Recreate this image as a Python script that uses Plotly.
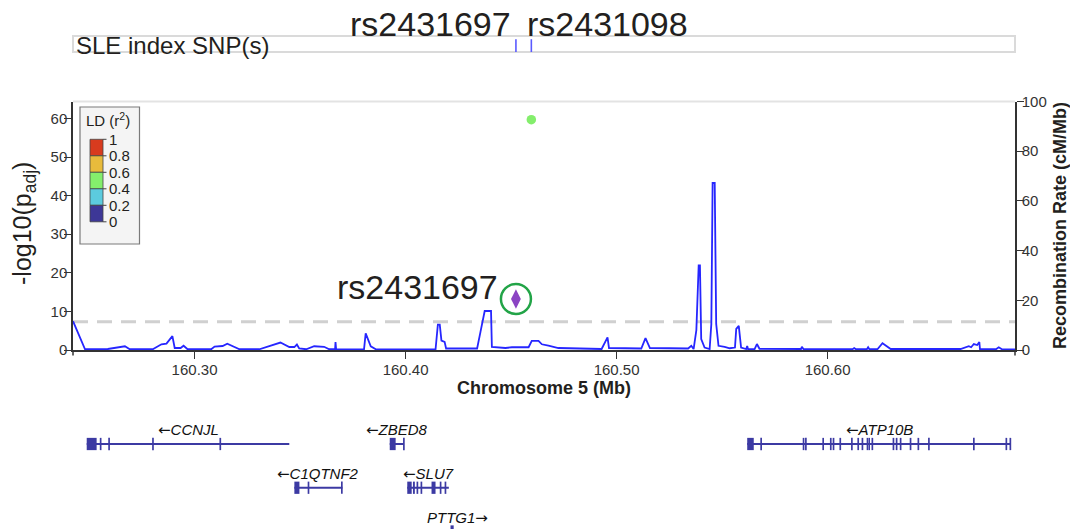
import plotly.graph_objects as go

# ---------------- data ----------------
recomb_pos = [
    160.2424, 160.2481, 160.2589, 160.2670, 160.2693, 160.2802, 160.2843, 160.2867, 160.2895, 160.2906,
    160.2934, 160.2948, 160.2967, 160.3079, 160.3095, 160.3133, 160.3155, 160.3213, 160.3307, 160.3407,
    160.3449, 160.3473, 160.3485, 160.3496, 160.3529, 160.3567, 160.3614, 160.3638, 160.3666, 160.3668,
    160.3671, 160.3803, 160.3811, 160.3835, 160.3859, 160.4000, 160.4142, 160.4153, 160.4162, 160.4170,
    160.4185, 160.4192, 160.4339, 160.4355, 160.4375, 160.4405, 160.4409, 160.4473, 160.4504, 160.4583,
    160.4598, 160.4630, 160.4646, 160.4677, 160.4724, 160.4929, 160.4945, 160.4957, 160.4964, 160.5117,
    160.5137, 160.5158, 160.5339, 160.5354, 160.5365, 160.5378, 160.5389, 160.5395, 160.5401, 160.5417,
    160.5441, 160.5449, 160.5455, 160.5465, 160.5472, 160.5483, 160.5512, 160.5536, 160.5561, 160.5567,
    160.5579, 160.5590, 160.5614, 160.5619, 160.5623, 160.5654, 160.5665, 160.5677, 160.5874, 160.5878,
    160.5886, 160.6118, 160.6126, 160.6134, 160.6186, 160.6192, 160.6198, 160.6236, 160.6260, 160.6299,
    160.6630, 160.6669, 160.6680, 160.6693, 160.6709, 160.6719, 160.6722, 160.6798, 160.6811, 160.6826,
    160.6888,
]
recomb_rate = [
    11.6, 0.3, 0.4, 1.5, 0.3, 0.3, 2.3, 2.6, 5.6, 0.8,
    0.8, 1.7, 0.3, 0.3, 1.4, 1.6, 2.5, 0.3, 0.3, 3.0,
    1.2, 1.2, 2.2, 0.6, 0.3, 1.5, 1.3, 0.3, 0.3, 3.2,
    0.2, 0.2, 6.7, 1.5, 0.3, 0.2, 0.2, 10.2, 10.2, 3.8,
    3.3, 0.6, 0.6, 7.3, 15.7, 15.7, 1.2, 0.8, 1.1, 1.1,
    3.7, 3.7, 2.3, 1.8, 0.8, 0.4, 3.5, 5.1, 0.8, 0.6,
    4.8, 0.8, 0.6, 1.7, 0.4, 8.0, 34.0, 34.0, 4.4, 1.0,
    0.4, 10.5, 67.2, 67.2, 10.5, 1.7, 1.3, 0.7, 1.0, 8.5,
    9.7, 1.0, 0.4, 1.6, 0.3, 0.4, 2.4, 0.5, 0.4, 1.3,
    0.3, 0.3, 0.8, 0.3, 0.3, 1.1, 0.3, 0.3, 2.7, 0.4,
    0.4, 1.5, 1.1, 2.4, 2.0, 3.2, 0.3, 0.3, 1.1, 0.3,
    0.2,
]

index_snp_names = ["rs2431697", "rs2431098"]
index_snp_pos = [160.4523, 160.4596]

lead_snp_name = "rs2431697"
lead_snp_pos = [160.4523]
lead_snp_logp = [13.2]

other_snp_pos = [160.4596]
other_snp_logp = [59.7]
other_snp_r2 = [0.5]

sig_threshold = 7.3

x_range = [160.2424, 160.6888]
x_ticks = [160.30, 160.40, 160.50, 160.60]
y_ticks = [0, 10, 20, 30, 40, 50, 60]
y2_ticks = [0, 20, 40, 60, 80, 100]

ld_breaks = [1.0, 0.8, 0.6, 0.4, 0.2, 0.0]
ld_labels = ["1", "0.8", "0.6", "0.4", "0.2", "0"]
ld_colors = ["#d83b1e", "#e8bb3c", "#84ee6c", "#5ccbde", "#3d3797"]  # high -> low bins

gene_names = ["CCNJL", "ZBED8", "C1QTNF2", "SLU7", "PTTG1", "ATP10B"]
gene_start = [160.2489, 160.3925, 160.3473, 160.4008, 160.4213, 160.5619]
gene_end = [160.3449, 160.3992, 160.3701, 160.4205, 160.4276, 160.6869]
gene_strand = ["-", "-", "-", "-", "+", "-"]
gene_row = [1, 1, 2, 2, 3, 1]
gene_exons = [
    [(160.2489, 160.2536), (160.2551, 160.2559), (160.2591, 160.2599), (160.2799, 160.2807), (160.3118, 160.3126)],
    [(160.3925, 160.3953), (160.3988, 160.3996)],
    [(160.3473, 160.3497), (160.3536, 160.3544), (160.3694, 160.3702)],
    [(160.4008, 160.4029), (160.4035, 160.4044), (160.4052, 160.4060), (160.4071, 160.4079),
     (160.4123, 160.4142), (160.4162, 160.4170), (160.4185, 160.4193)],
    [(160.4213, 160.4228)],
    [(160.5619, 160.5650), (160.5681, 160.5689), (160.5882, 160.5890), (160.5893, 160.5901),
     (160.5975, 160.5983), (160.6011, 160.6019), (160.6024, 160.6032), (160.6056, 160.6064),
     (160.6111, 160.6119), (160.6141, 160.6149), (160.6161, 160.6169), (160.6185, 160.6193),
     (160.6194, 160.6201), (160.6208, 160.6216), (160.6308, 160.6316), (160.6323, 160.6331),
     (160.6342, 160.6350), (160.6389, 160.6397), (160.6426, 160.6434), (160.6476, 160.6484),
     (160.6689, 160.6697), (160.6843, 160.6851), (160.6862, 160.6870)],
]

# ---------------- styling / layout helpers ----------------
W, H = 1070, 529
FONT = "Liberation Sans, Arial, Helvetica, sans-serif"
TXT = "#231f20"
AX = "#333333"
GENE_COL = "#3c3aa3"
ARROW_SPAN = '<span style="font-family:DejaVu Sans">{}</span>'


def px(x):
    return x / W


def py(y):
    return 1 - y / H


def ld_color(r2):
    for i in range(len(ld_colors)):
        if r2 >= ld_breaks[i + 1]:
            return ld_colors[i]
    return ld_colors[-1]


fig = go.Figure()

fig.add_trace(go.Scatter(x=recomb_pos, y=recomb_rate, mode="lines", yaxis="y2",
                         line=dict(color="#2626ff", width=1.8), hoverinfo="skip", showlegend=False))
fig.add_trace(go.Scatter(x=other_snp_pos, y=other_snp_logp, mode="markers", yaxis="y",
                         marker=dict(color=[ld_color(r) for r in other_snp_r2], size=9.5, line=dict(width=0)),
                         showlegend=False))
fig.add_trace(go.Scatter(x=lead_snp_pos, y=lead_snp_logp, mode="markers", yaxis="y",
                         marker=dict(symbol="circle-open", size=30, color="#22a447", line=dict(width=2.5, color="#22a447")),
                         showlegend=False, hoverinfo="skip"))
fig.add_trace(go.Scatter(x=lead_snp_pos, y=lead_snp_logp, mode="markers", yaxis="y",
                         marker=dict(symbol="diamond-tall", size=14, color="#8b44c3", line=dict(width=0)),
                         showlegend=False))
for p in index_snp_pos:
    fig.add_trace(go.Scatter(x=[p, p], y=[0.0, 0.8], mode="lines", yaxis="y4",
                             line=dict(color="#5a5aff", width=1.6), showlegend=False, hoverinfo="skip"))
for s, e, r in zip(gene_start, gene_end, gene_row):
    fig.add_trace(go.Scatter(x=[s, e], y=[r, r], mode="lines", yaxis="y3",
                             line=dict(color=GENE_COL, width=2), showlegend=False, hoverinfo="skip"))

shapes = []
annotations = []

# genome-wide significance threshold
shapes.append(dict(type="line", xref="x domain", yref="y", x0=0, x1=1, y0=sig_threshold, y1=sig_threshold,
                   line=dict(color="#d0d0d0", width=3, dash="15px,9px"), layer="below"))
# faint top border of the association panel
shapes.append(dict(type="line", xref="x domain", yref="y domain", x0=0, x1=1, y0=1, y1=1,
                   line=dict(color="#e3e3e3", width=2)))
# axis lines extending slightly below zero
for xd in (0, 1):
    shapes.append(dict(type="line", xref="x domain", yref="y domain", x0=xd, x1=xd, y0=0, y1=-0.022,
                       line=dict(color=AX, width=1.5)))
# index SNP track box
shapes.append(dict(type="rect", xref="x domain", yref="y4 domain", x0=0, x1=1, y0=0, y1=1,
                   line=dict(color="#dadada", width=2), fillcolor="rgba(0,0,0,0)", layer="below"))

# exons
EXON_HALF = 0.14
for exons, r in zip(gene_exons, gene_row):
    for s, e in exons:
        shapes.append(dict(type="rect", xref="x", yref="y3", x0=s, x1=e, y0=r - EXON_HALF, y1=r + EXON_HALF,
                           fillcolor=GENE_COL, line=dict(width=0)))

# gene labels
LABEL_OFF = 0.309
for name, s, e, st, r in zip(gene_names, gene_start, gene_end, gene_strand, gene_row):
    txt = (ARROW_SPAN.format("\u2190") + name) if st == "-" else (name + ARROW_SPAN.format("\u2192"))
    annotations.append(dict(x=(s + e) / 2, y=r - LABEL_OFF, xref="x", yref="y3", text="<i>" + txt + "</i>",
                            showarrow=False, xanchor="center", yanchor="middle",
                            font=dict(family=FONT, size=15, color="#111111")))

# index SNP labels
annotations.append(dict(x=index_snp_pos[0], y=py(24), xref="x", yref="paper", text=index_snp_names[0],
                        showarrow=False, xanchor="right", yanchor="middle", xshift=-3,
                        font=dict(family=FONT, size=34, color=TXT)))
annotations.append(dict(x=index_snp_pos[1], y=py(24), xref="x", yref="paper", text=index_snp_names[1],
                        showarrow=False, xanchor="left", yanchor="middle", xshift=-6,
                        font=dict(family=FONT, size=34, color=TXT)))
annotations.append(dict(x=px(74), y=py(46), xref="paper", yref="paper", text="SLE index SNP(s)",
                        showarrow=False, xanchor="left", yanchor="middle",
                        font=dict(family=FONT, size=24, color=TXT)))

# lead SNP label
annotations.append(dict(x=lead_snp_pos[0], y=lead_snp_logp[0], xref="x", yref="y", text=lead_snp_name,
                        showarrow=False, xanchor="right", yanchor="middle", xshift=-16, yshift=12,
                        font=dict(family=FONT, size=34, color=TXT)))

# axis titles
annotations.append(dict(x=px(544), y=py(388), xref="paper", yref="paper", text="<b>Chromosome 5 (Mb)</b>",
                        showarrow=False, xanchor="center", yanchor="middle",
                        font=dict(family=FONT, size=18, color=TXT)))
annotations.append(dict(x=px(24), y=py(224), xref="paper", yref="paper", text="-log10(p<sub>adj</sub>)",
                        showarrow=False, xanchor="center", yanchor="middle", textangle=-90,
                        font=dict(family=FONT, size=25, color=TXT)))
annotations.append(dict(x=px(1060), y=py(226), xref="paper", yref="paper",
                        text="<b>Recombination Rate (cM/Mb)</b>",
                        showarrow=False, xanchor="center", yanchor="middle", textangle=-90,
                        font=dict(family=FONT, size=18, color=TXT)))

# LD legend
shapes.append(dict(type="rect", xref="paper", yref="paper", x0=px(80), x1=px(139.5), y0=py(244), y1=py(107),
                   fillcolor="#f4f4f4", line=dict(color="#7a7a7a", width=1.2)))
annotations.append(dict(x=px(84), y=py(120), xref="paper", yref="paper", text="LD (r<sup>2</sup>)",
                        showarrow=False, xanchor="left", yanchor="middle",
                        font=dict(family=FONT, size=15, color=TXT)))
bar_top, bar_step = 139.3, 16.5
for i, c in enumerate(ld_colors):
    y0 = bar_top + i * bar_step
    shapes.append(dict(type="rect", xref="paper", yref="paper", x0=px(90), x1=px(103),
                       y0=py(y0 + bar_step), y1=py(y0), fillcolor=c, line=dict(color="#444444", width=0.8)))
for i, lab in enumerate(ld_labels):
    yy = bar_top + i * bar_step
    shapes.append(dict(type="line", xref="paper", yref="paper", x0=px(103), x1=px(106.5), y0=py(yy), y1=py(yy),
                       line=dict(color="#444444", width=1)))
    annotations.append(dict(x=px(106.5), y=py(yy), xref="paper", yref="paper", text=lab, showarrow=False,
                            xanchor="left", yanchor="middle", font=dict(family=FONT, size=15, color=TXT)))

axis_common = dict(showgrid=False, zeroline=False, showline=True, linecolor=AX, linewidth=1.5,
                   ticks="outside", ticklen=7, tickwidth=1.2, tickcolor=AX, automargin=False,
                   tickfont=dict(family=FONT, size=15, color="#333333"))

# gene track: rows at 444 / 488 / 531.5 px, track spans 418 px to the figure bottom
row_px = 43.75
track_top, track_bot = 418, H
g_top = 1 - (444 - track_top) / row_px
g_bot = 1 + (track_bot - 444) / row_px

fig.update_layout(
    template="none",
    width=W, height=H, margin=dict(l=0, r=0, t=0, b=0, pad=0, autoexpand=False), autosize=False,
    paper_bgcolor="white", plot_bgcolor="white", showlegend=False,
    font=dict(family=FONT, color=TXT),
    xaxis=dict(domain=[px(73), px(1015)], range=x_range, tickvals=x_ticks, tickformat=".2f",
               anchor="y", ticklabelstandoff=-2, **axis_common),
    yaxis=dict(domain=[py(350), py(101.5)], range=[0, 64.4], tickvals=y_ticks, anchor="x",
               ticklabelstandoff=-6, **axis_common),
    yaxis2=dict(overlaying="y", side="right", anchor="x", range=[0, 100], tickvals=y2_ticks,
                ticklabelstandoff=-5, **axis_common),
    yaxis3=dict(domain=[0, py(track_top)], range=[g_bot, g_top], visible=False, anchor="x", automargin=False),
    yaxis4=dict(domain=[py(52), py(36)], range=[0, 1], visible=False, anchor="x", automargin=False),
    shapes=shapes, annotations=annotations,
)

fig.write_html("out.html")
